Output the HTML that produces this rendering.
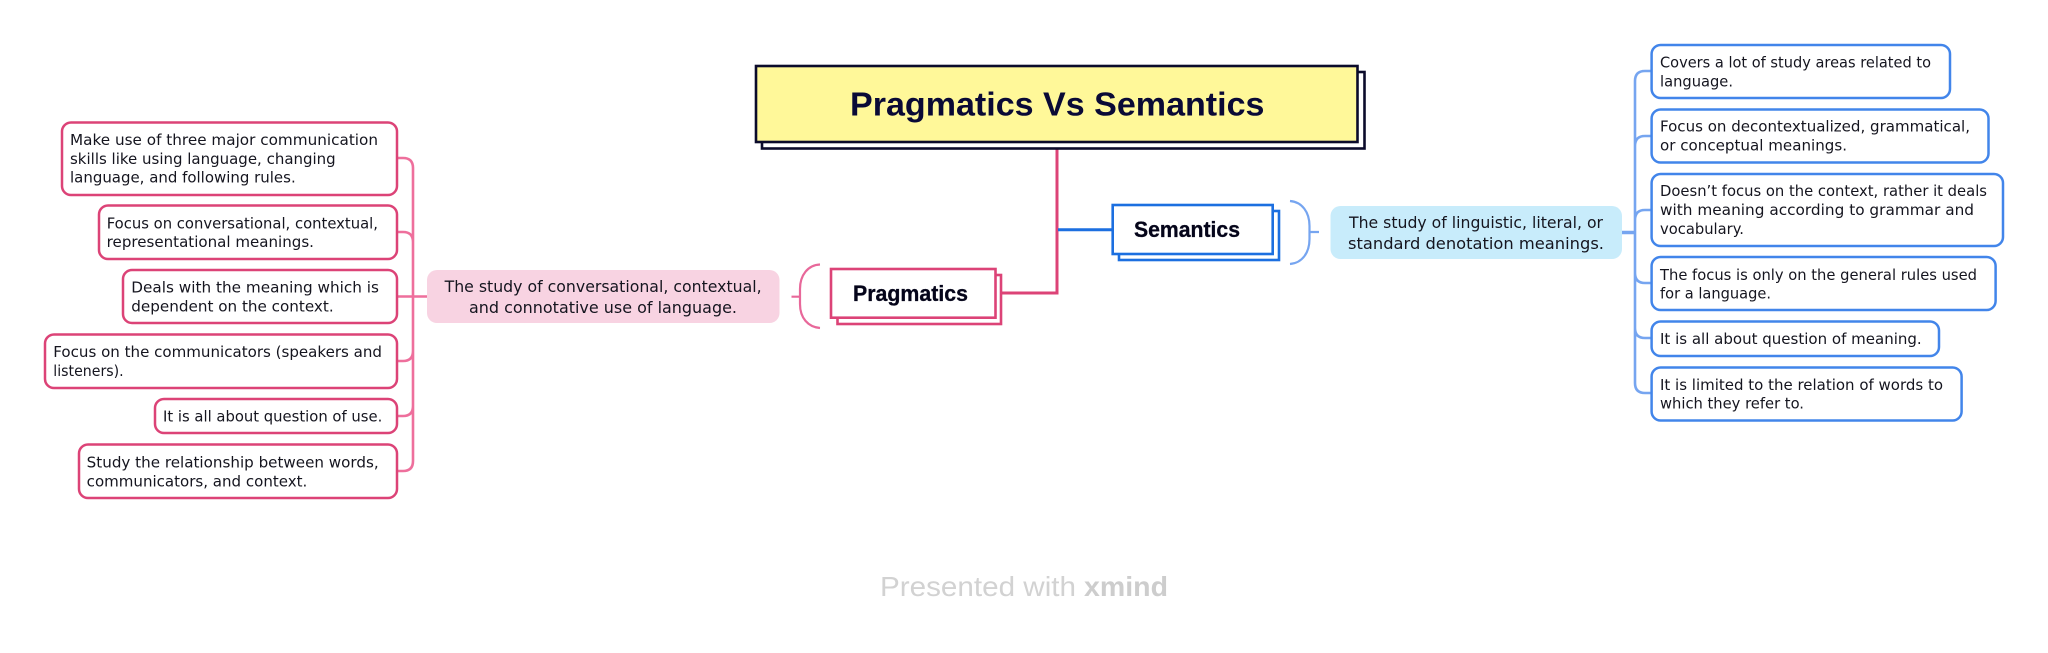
<!DOCTYPE html>
<html><head><meta charset="utf-8"><title>Pragmatics Vs Semantics</title>
<style>
html,body{margin:0;padding:0;background:#fff;width:2048px;height:653px;overflow:hidden}
svg{display:block;filter:blur(.35px)}
text{font-family:"DejaVu Sans","Liberation Sans",sans-serif;font-size:15px;fill:#15151f}
.b{fill:#fff;stroke-width:2.5}
.p{stroke:#dc4377}.u{stroke:#4285ea}
.lp{fill:none;stroke:#ee6f9c;stroke-width:2.6}
.lu{fill:none;stroke:#76a5f0;stroke-width:2.6}
.d{font-size:16px}
.h{font-family:"Liberation Sans",sans-serif;font-weight:700;font-size:22px;fill:#05051a;stroke:#05051a;stroke-width:.3}
</style></head><body>
<svg width="2048" height="653" viewBox="0 0 2048 653" xmlns="http://www.w3.org/2000/svg">
<!-- main connectors -->
<path d="M1057 148V293H1000" fill="none" stroke="#dc4377" stroke-width="3"/>
<path d="M1058 229.7H1113" fill="none" stroke="#1c6fe0" stroke-width="3"/>
<!-- title -->
<rect x="762" y="72" width="602.5" height="76.5" fill="#fff" stroke="#0b0b2b" stroke-width="2.6"/>
<rect x="756" y="66" width="601.5" height="76" fill="#fff899" stroke="#0b0b2b" stroke-width="2.6"/>
<text x="850" y="115.5" textLength="414.5" lengthAdjust="spacingAndGlyphs" style="font-family:'Liberation Sans',sans-serif;font-weight:700;font-size:33px;fill:#0a0a36">Pragmatics Vs Semantics</text>
<!-- pragmatics -->
<rect x="837.5" y="275" width="163.5" height="49" fill="#fff" stroke="#dc4377" stroke-width="2.6"/>
<rect x="831" y="269" width="164.5" height="48.7" fill="#fff" stroke="#dc4377" stroke-width="2.6"/>
<text class="h" x="853" y="301" textLength="115" lengthAdjust="spacingAndGlyphs">Pragmatics</text>
<!-- semantics -->
<rect x="1119" y="211" width="160" height="49" fill="#fff" stroke="#1c6fe0" stroke-width="2.6"/>
<rect x="1112.7" y="205" width="160" height="49" fill="#fff" stroke="#1c6fe0" stroke-width="2.6"/>
<text class="h" x="1134" y="237" textLength="106" lengthAdjust="spacingAndGlyphs">Semantics</text>
<!-- brackets -->
<path d="M820 264.5C808 265 800 275 800 289V304C800 318 808 327 820 328M791.5 296.7H800" fill="none" stroke="#e8689a" stroke-width="2.2"/>
<path d="M1290 201C1302 202 1309.5 212 1309.5 226V239C1309.5 253 1302 263 1290 264M1309.5 232H1319" fill="none" stroke="#76a5f0" stroke-width="2.2"/>
<!-- description boxes -->
<rect x="427" y="270" width="352.5" height="53" rx="10" fill="#f8d3e2"/>
<text class="d" x="444.6" y="292" textLength="317" lengthAdjust="spacingAndGlyphs">The study of conversational, contextual,</text>
<text class="d" x="469" y="313" textLength="268" lengthAdjust="spacingAndGlyphs">and connotative use of language.</text>
<rect x="1330.5" y="206" width="291.5" height="53" rx="10" fill="#c8ecfb"/>
<text class="d" x="1349" y="228" textLength="254" lengthAdjust="spacingAndGlyphs">The study of linguistic, literal, or</text>
<text class="d" x="1348" y="249" textLength="256" lengthAdjust="spacingAndGlyphs">standard denotation meanings.</text>
<!-- left connectors -->
<path class="lp" d="M397 158H403Q413 158 413 168V461Q413 471 403 471H397M397 232H403Q413 232 413 242M397 296.5H427M397 361H403Q413 361 413 351M397 416H403Q413 416 413 406"/>
<!-- right connectors -->
<path class="lu" d="M1651.6 71H1645Q1635 71 1635 81V383Q1635 393 1645 393H1651.6M1651.6 136H1645Q1635 136 1635 146M1651.6 210H1645Q1635 210 1635 220M1651.6 283H1645Q1635 283 1635 273M1651.6 338H1645Q1635 338 1635 328"/>
<path d="M1622 232.5H1635" stroke="#76a5f0" stroke-width="3.5" fill="none"/>
<!-- left boxes -->
<rect class="b p" x="62" y="122.5" width="335" height="72.5" rx="9"/>
<text x="70" y="145" textLength="308" lengthAdjust="spacingAndGlyphs">Make use of three major communication</text>
<text x="70" y="164" textLength="265.7" lengthAdjust="spacingAndGlyphs">skills like using language, changing</text>
<text x="70" y="182.7" textLength="225.7" lengthAdjust="spacingAndGlyphs">language, and following rules.</text>
<rect class="b p" x="99" y="205.5" width="298" height="53.5" rx="9"/>
<text x="106.7" y="228.3" textLength="271.3" lengthAdjust="spacingAndGlyphs">Focus on conversational, contextual,</text>
<text x="106.7" y="247" textLength="207.3" lengthAdjust="spacingAndGlyphs">representational meanings.</text>
<rect class="b p" x="123" y="270" width="274" height="53" rx="9"/>
<text x="131.3" y="292.7" textLength="247.7" lengthAdjust="spacingAndGlyphs">Deals with the meaning which is</text>
<text x="131.3" y="311.7" textLength="202.4" lengthAdjust="spacingAndGlyphs">dependent on the context.</text>
<rect class="b p" x="45" y="334.5" width="352" height="53.5" rx="9"/>
<text x="53.3" y="357" textLength="328.7" lengthAdjust="spacingAndGlyphs">Focus on the communicators (speakers and</text>
<text x="53.3" y="376" textLength="70.4" lengthAdjust="spacingAndGlyphs">listeners).</text>
<rect class="b p" x="155" y="399" width="242" height="34" rx="9"/>
<text x="163" y="421.3" textLength="219.3" lengthAdjust="spacingAndGlyphs">It is all about question of use.</text>
<rect class="b p" x="79" y="444.5" width="318" height="53.5" rx="9"/>
<text x="86.7" y="467.3" textLength="292" lengthAdjust="spacingAndGlyphs">Study the relationship between words,</text>
<text x="86.7" y="486.3" textLength="220.6" lengthAdjust="spacingAndGlyphs">communicators, and context.</text>
<!-- right boxes -->
<rect class="b u" x="1651.6" y="45" width="298.4" height="53" rx="9"/>
<text x="1660" y="67.7" textLength="271" lengthAdjust="spacingAndGlyphs">Covers a lot of study areas related to</text>
<text x="1660" y="86.7" textLength="73" lengthAdjust="spacingAndGlyphs">language.</text>
<rect class="b u" x="1651.6" y="109.5" width="336.9" height="53" rx="9"/>
<text x="1660" y="131.7" textLength="310" lengthAdjust="spacingAndGlyphs">Focus on decontextualized, grammatical,</text>
<text x="1660" y="150.7" textLength="187" lengthAdjust="spacingAndGlyphs">or conceptual meanings.</text>
<rect class="b u" x="1651.6" y="174" width="351.4" height="72" rx="9"/>
<text x="1660" y="196" textLength="327" lengthAdjust="spacingAndGlyphs">Doesn’t focus on the context, rather it deals</text>
<text x="1660" y="215" textLength="314" lengthAdjust="spacingAndGlyphs">with meaning according to grammar and</text>
<text x="1660" y="234" textLength="84" lengthAdjust="spacingAndGlyphs">vocabulary.</text>
<rect class="b u" x="1651.6" y="257" width="344" height="53" rx="9"/>
<text x="1660" y="280" textLength="317" lengthAdjust="spacingAndGlyphs">The focus is only on the general rules used</text>
<text x="1660" y="298.7" textLength="111" lengthAdjust="spacingAndGlyphs">for a language.</text>
<rect class="b u" x="1651.6" y="321.5" width="287.4" height="34.5" rx="9"/>
<text x="1660" y="344" textLength="261.7" lengthAdjust="spacingAndGlyphs">It is all about question of meaning.</text>
<rect class="b u" x="1651.6" y="367.5" width="310" height="53" rx="9"/>
<text x="1660" y="390" textLength="283" lengthAdjust="spacingAndGlyphs">It is limited to the relation of words to</text>
<text x="1660" y="408.7" textLength="144" lengthAdjust="spacingAndGlyphs">which they refer to.</text>
<!-- footer -->
<text x="880" y="596" textLength="196" lengthAdjust="spacingAndGlyphs" style="font-family:'Liberation Sans',sans-serif;font-size:28px;fill:#d2d2d2">Presented with</text>
<text x="1084" y="596" textLength="84" lengthAdjust="spacingAndGlyphs" style="font-family:'Liberation Sans',sans-serif;font-weight:700;font-size:28px;fill:#cdcdcd">xmind</text>
</svg>
</body></html>
